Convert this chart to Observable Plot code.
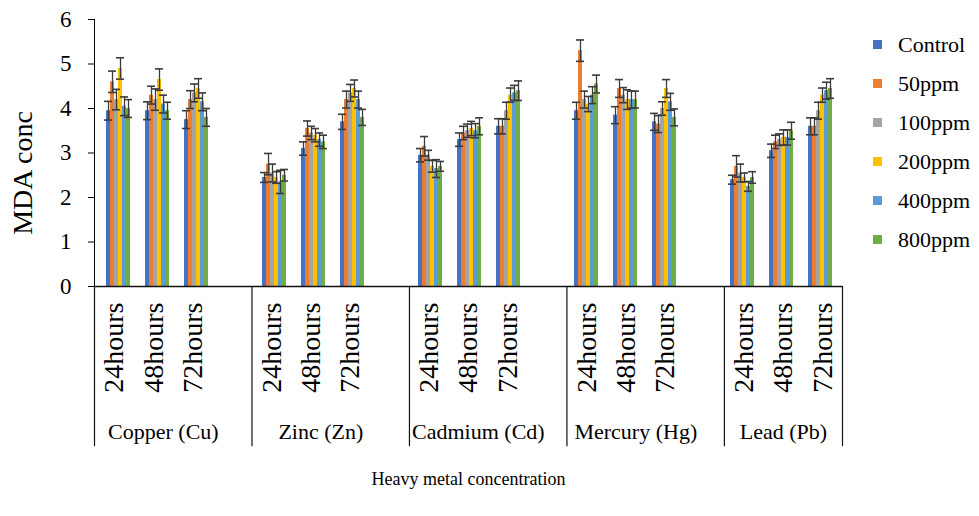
<!DOCTYPE html>
<html>
<head>
<meta charset="utf-8">
<script src="https://cdn.jsdelivr.net/npm/d3@7"></script>
<script src="https://cdn.jsdelivr.net/npm/@observablehq/plot@0.6"></script>
<style>
  body { margin: 0; background: #fff; }
  #wrap { position: relative; width: 979px; height: 516px; font-family: "Liberation Serif", "Times New Roman", serif; }
  #wrap svg { position: absolute; left: 0; top: 0; }
  #wrap svg text { font-family: "Liberation Serif", "Times New Roman", serif !important; }
  #legend { position: absolute; left: 873px; top: 25px; font-size: 22px; color: #000; }
  #legend .item { height: 39px; line-height: 39px; display: flex; align-items: center; white-space: nowrap; }
  #legend .sw { width: 9px; height: 9px; margin-right: 16px; display: inline-block; }
</style>
</head>
<body>
<div id="wrap"><div id="legend"></div></div>
<script>
// ---- data ----
const metals = ["Copper (Cu)", "Zinc (Zn)", "Cadmium (Cd)", "Mercury (Hg)", "Lead (Pb)"];
const times = ["24hours", "48hours", "72hours"];
const series = ["Control", "50ppm", "100ppm", "200ppm", "400ppm", "800ppm"];
const colors = ["#4472C4", "#ED7D31", "#A5A5A5", "#FFC000", "#5B9BD5", "#70AD47"];
const yTicks = [0, 1, 2, 3, 4, 5, 6];

// rows: 24h, 48h, 72h ; columns: series
const copper  = [[3.95, 4.6, 4.2, 4.9, 4.05, 4.0], [3.95, 4.3, 4.2, 4.65, 4.1, 3.95], [3.75, 4.2, 4.35, 4.45, 4.15, 3.8]];
const zinc    = [[2.45, 2.75, 2.55, 2.45, 2.35, 2.5], [3.1, 3.55, 3.45, 3.4, 3.3, 3.25], [3.7, 4.2, 4.35, 4.45, 4.2, 3.8]];
const cadmium = [[2.95, 3.15, 2.95, 2.7, 2.65, 2.7], [3.3, 3.45, 3.5, 3.55, 3.5, 3.6], [3.6, 3.6, 3.95, 4.3, 4.35, 4.4]];
const mercury = [[3.95, 5.3, 4.2, 4.1, 4.3, 4.55], [3.85, 4.45, 4.3, 4.2, 4.2, 4.2], [3.7, 3.65, 4.0, 4.45, 4.15, 3.8]];
const lead    = [[2.4, 2.7, 2.55, 2.45, 2.25, 2.45], [3.05, 3.25, 3.3, 3.35, 3.35, 3.5], [3.6, 3.6, 3.95, 4.3, 4.4, 4.45]];

const copperErr  = [[0.21, 0.24, 0.23, 0.24, 0.21, 0.2], [0.2, 0.2, 0.24, 0.24, 0.2, 0.19], [0.2, 0.2, 0.2, 0.22, 0.2, 0.2]];
const zincErr    = [[0.11, 0.24, 0.2, 0.13, 0.26, 0.13], [0.15, 0.17, 0.15, 0.15, 0.15, 0.15], [0.17, 0.19, 0.19, 0.19, 0.19, 0.18]];
const cadmiumErr = [[0.15, 0.22, 0.11, 0.13, 0.2, 0.11], [0.15, 0.15, 0.15, 0.16, 0.16, 0.19], [0.17, 0.17, 0.19, 0.16, 0.17, 0.22]];
const mercuryErr = [[0.19, 0.24, 0.19, 0.17, 0.19, 0.2], [0.19, 0.2, 0.17, 0.22, 0.19, 0.19], [0.19, 0.19, 0.15, 0.2, 0.19, 0.19]];
const leadErr    = [[0.1, 0.24, 0.2, 0.1, 0.11, 0.13], [0.15, 0.15, 0.13, 0.17, 0.17, 0.19], [0.19, 0.19, 0.19, 0.16, 0.19, 0.22]];

const metalValues = [copper, zinc, cadmium, mercury, lead];
const metalErrors = [copperErr, zincErr, cadmiumErr, mercuryErr, leadErr];

// ---- category slots (Excel layout: an empty slot between metal groups) ----
const slots = [];
const timeRows = [];
const metalRows = [];
const boundaries = [0];
metals.forEach((m, mi) => {
  const start = slots.length;
  times.forEach((t, ti) => {
    timeRows.push({label: t, pos: slots.length + 0.5});
    slots.push(`${mi}-${ti}`);
  });
  if (mi < metals.length - 1) slots.push(`${mi}-gap`);
  const end = slots.length;
  boundaries.push(end);
  metalRows.push({label: m, pos: mi < metals.length - 1 ? start + 1.75 : (start + end) / 2});
});

const rows = [];
metalValues.forEach((vals, mi) => vals.forEach((row, ti) => row.forEach((v, si) => {
  rows.push({slot: `${mi}-${ti}`, series: series[si], value: v, err: metalErrors[mi][ti][si]});
})));

const W = 979, H = 516, ML = 94, MR = 137, MT = 19, MB = 230;
const errColor = "#3c3c3c";
const FONT = "Liberation Serif";

const chart = Plot.plot({
  width: W, height: H,
  marginLeft: ML, marginRight: MR, marginTop: MT, marginBottom: MB,
  style: {fontFamily: FONT, background: "transparent", color: "#000"},
  fx: {domain: slots, padding: 0, axis: null},
  x: {domain: series, paddingInner: 0, paddingOuter: 1.4, axis: null},
  y: {domain: [0, 6], axis: null},
  color: {domain: series, range: colors},
  marks: [
    Plot.barY(rows, {fx: "slot", x: "series", y: "value", fill: "series"}),
    Plot.ruleX(rows, {fx: "slot", x: "series", y1: d => d.value - d.err, y2: d => d.value + d.err, stroke: errColor, strokeWidth: 1.3}),
    Plot.tickY(rows, {fx: "slot", x: "series", y: d => d.value + d.err, stroke: errColor, strokeWidth: 1.6, insetLeft: -2, insetRight: -2}),
    Plot.tickY(rows, {fx: "slot", x: "series", y: d => d.value - d.err, stroke: errColor, strokeWidth: 1.6, insetLeft: -2, insetRight: -2})
  ]
});

const overlay = Plot.plot({
  width: W, height: H,
  marginLeft: ML, marginRight: MR, marginTop: MT, marginBottom: MB,
  style: {fontFamily: FONT, fontSize: "23px", background: "transparent", color: "#000"},
  x: {domain: [0, slots.length], axis: null},
  y: {domain: [0, 6], ticks: yTicks, tickSize: 6, tickPadding: 17, line: true, label: null, tickFormat: d3.format("d")},
  marks: [
    Plot.ruleY([0], {stroke: "#111", strokeWidth: 1.3}),
    Plot.ruleX(boundaries, {y1: 0, y2: -3.6, stroke: "#111", strokeWidth: 1.2}),
    Plot.text(timeRows, {x: "pos", y: 0, text: "label", rotate: -90, textAnchor: "end", dy: 16, fontSize: 28, fontFamily: FONT, fill: "#000"}),
    Plot.text(metalRows, {x: "pos", y: 0, text: "label", dy: 145, fontSize: 22, fontFamily: FONT, fill: "#000"}),
    Plot.text(["MDA conc"], {frameAnchor: "left", textAnchor: "middle", text: d => d, rotate: -90, dx: -71, dy: 20, fontSize: 28, fontFamily: FONT, fill: "#000"}),
    Plot.text(["Heavy metal concentration"], {frameAnchor: "bottom", textAnchor: "middle", text: d => d, dy: 198, fontSize: 18, fontFamily: FONT, fill: "#000"})
  ]
});

const wrap = document.getElementById("wrap");
wrap.insertBefore(chart, wrap.firstChild);
wrap.insertBefore(overlay, document.getElementById("legend"));

const legend = document.getElementById("legend");
series.forEach((s, i) => {
  const item = document.createElement("div");
  item.className = "item";
  const sw = document.createElement("span");
  sw.className = "sw";
  sw.style.background = colors[i];
  item.appendChild(sw);
  item.appendChild(document.createTextNode(s));
  legend.appendChild(item);
});
</script>
</body>
</html>
